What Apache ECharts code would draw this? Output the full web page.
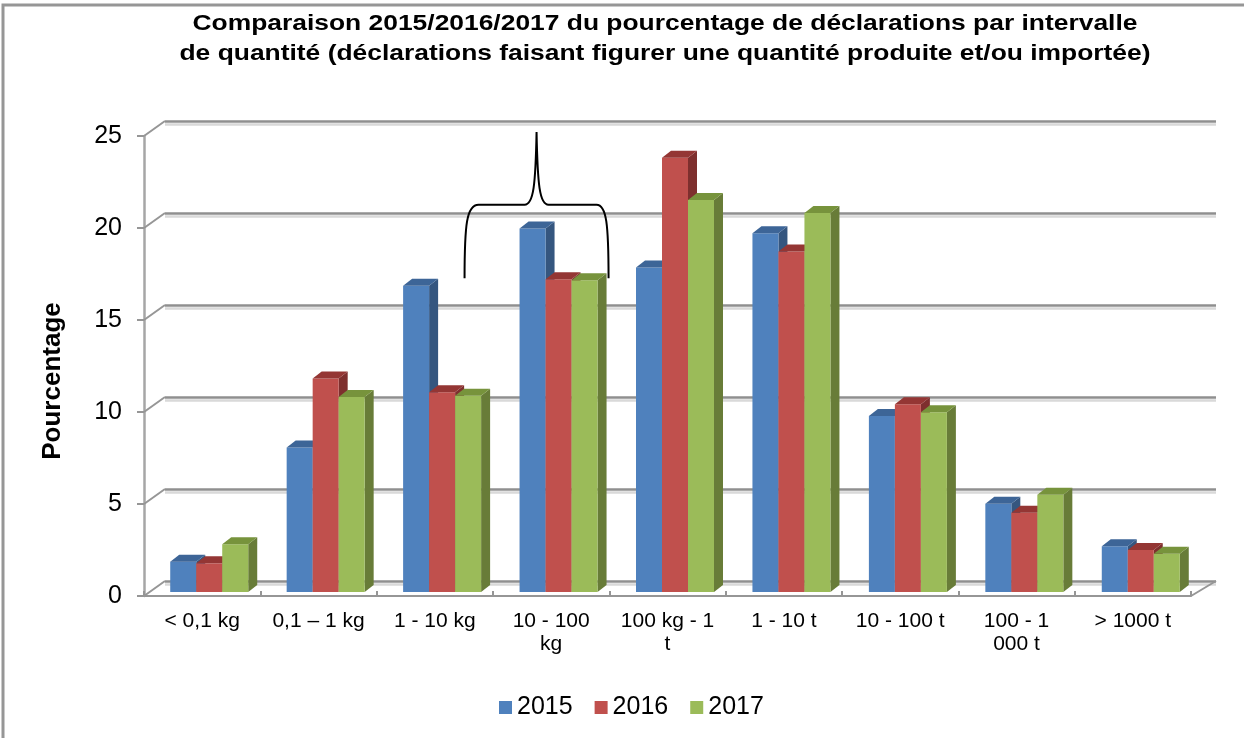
<!DOCTYPE html>
<html>
<head>
<meta charset="utf-8">
<script src="https://cdn.jsdelivr.net/npm/echarts@6/dist/echarts.min.js"></script>
<style>
  html, body { margin: 0; padding: 0; background: #fff; }
  #main { width: 1244px; height: 738px; }
</style>
</head>
<body>
<div id="main"></div>
<script>
var myChart = echarts.init(document.getElementById("main"));

// catégories (libellés tels qu'affichés, avec retour à la ligne)
var categories = ["< 0,1 kg", "0,1 – 1 kg", "1 - 10 kg", "10 - 100\nkg", "100 kg - 1\nt",
  "1 - 10 t", "10 - 100 t", "100 - 1\n000 t", "> 1000 t"];
var years = ["2015", "2016", "2017"];
var v2015 = [1.65, 7.86, 16.65, 19.75, 17.63, 19.5, 9.57, 4.8, 2.48];
var v2016 = [1.56, 11.6, 10.85, 17.0, 23.6, 18.5, 10.2, 4.31, 2.28];
var v2017 = [2.6, 10.6, 10.67, 16.94, 21.3, 20.6, 9.77, 5.29, 2.08];
var yTicks = [0, 5, 10, 15, 20, 25];

var titre = "Comparaison 2015/2016/2017 du pourcentage de déclarations par intervalle\n" +
  "de quantité (déclarations faisant figurer une quantité produite et/ou importée)";

// couleurs face / dessus / côté
var colors = [
  { front: "#4F81BD", top: "#3D6597", side: "#35567F" },
  { front: "#C0504D", top: "#943634", side: "#7E2F2E" },
  { front: "#9BBB59", top: "#77933C", side: "#687C38" }
];

var BW = 26;   // largeur d'une barre
var DX = 9;    // profondeur x
var DY = 7;    // profondeur y
var WX = 21;   // décalage mur arrière
var WY = 15;

function bar3d(idx) {
  return function (params, api) {
    var cat = api.value(0);
    var v = api.value(1);
    var base = api.coord([cat, 0]);
    var top = api.coord([cat, v]);
    var x0 = base[0] - 1.5 * BW + idx * BW;
    var ty = top[1], by = base[1];
    var c = colors[idx];
    return {
      type: "group",
      children: [
        {
          type: "polygon",
          shape: { points: [[x0 + BW, ty], [x0 + BW + DX, ty - DY], [x0 + BW + DX, by - DY], [x0 + BW, by]] },
          style: { fill: c.side }
        },
        {
          type: "rect",
          shape: { x: x0, y: ty, width: BW, height: by - ty },
          style: { fill: c.front }
        },
        {
          type: "polygon",
          shape: { points: [[x0, ty], [x0 + DX, ty - DY], [x0 + BW + DX, ty - DY], [x0 + BW, ty]] },
          style: { fill: c.top }
        }
      ]
    };
  };
}

function toData(arr) {
  return arr.map(function (v, i) { return [i, v]; });
}

var option = {
  animation: false,
  legend: {
    data: years,
    left: 494,
    top: 690,
    itemWidth: 13,
    itemHeight: 13,
    itemGap: 22,
    icon: "rect",
    textStyle: { fontFamily: "Liberation Sans", fontSize: 25, color: "#000" }
  },
  graphic: [
    {
      type: "rect",
      shape: { x: 3, y: 5, width: 1400, height: 900 },
      style: { fill: "none", stroke: "#969696", lineWidth: 3 },
      silent: true
    },
    {
      // titre (police Arial étirée horizontalement comme dans Excel)
      type: "text",
      x: 665,
      y: 9,
      scaleX: 1.2,
      style: {
        text: titre,
        fontFamily: "Liberation Sans",
        fontSize: 22,
        fontWeight: "bold",
        lineHeight: 30,
        fill: "#000",
        align: "center",
        verticalAlign: "top"
      }
    },
    {
      type: "text",
      x: 53,
      y: 381,
      rotation: Math.PI / 2,
      style: {
        text: "Pourcentage",
        fontFamily: "Liberation Sans",
        fontSize: 26,
        fontWeight: "bold",
        fill: "#000",
        align: "center",
        verticalAlign: "middle"
      }
    }
  ],
  grid: [
    // mur arrière
    { left: 165, top: 121, width: 1051, height: 460 },
    // axe avant
    { left: 144, top: 136, width: 1047, height: 460 },
    // barres
    { left: 151, top: 132, width: 1048, height: 460 }
  ],
  xAxis: [
    { gridIndex: 0, type: "category", data: categories, show: false },
    {
      gridIndex: 1,
      type: "category",
      data: categories,
      axisLine: { lineStyle: { color: "#969696", width: 2 } },
      axisTick: { show: true, length: 5, inside: true, lineStyle: { color: "#969696", width: 2 } },
      axisLabel: {
        margin: 14,
        fontFamily: "Liberation Sans",
        fontSize: 21,
        lineHeight: 23,
        color: "#000",
        interval: 0
      }
    },
    { gridIndex: 2, type: "category", data: categories, show: false }
  ],
  yAxis: [
    {
      gridIndex: 0,
      type: "value",
      min: 0,
      max: 25,
      interval: 5,
      axisLine: { show: false },
      axisTick: { show: false },
      axisLabel: { show: false },
      splitLine: {
        lineStyle: { color: "#8f8f8f", width: 2.5, shadowColor: "#d9d9d9", shadowOffsetY: 3, shadowBlur: 0 }
      }
    },
    {
      gridIndex: 1,
      type: "value",
      min: 0,
      max: 25,
      interval: 5,
      axisLine: { show: true, lineStyle: { color: "#a6a6a6", width: 2.5 } },
      axisTick: { show: true, length: 7, lineStyle: { color: "#969696", width: 2 } },
      axisLabel: {
        margin: 22,
        fontFamily: "Liberation Sans",
        fontSize: 25,
        color: "#000"
      },
      splitLine: { show: false }
    },
    { gridIndex: 2, type: "value", min: 0, max: 25, interval: 5, show: false, splitLine: { show: false } }
  ],
  series: [
    {
      // diagonales du mur gauche et du plancher
      name: "mur",
      type: "custom",
      xAxisIndex: 1,
      yAxisIndex: 1,
      silent: true,
      data: yTicks.map(function (t) { return [0, t]; }),
      renderItem: function (params, api) {
        var p = api.coord([0, api.value(1)]);
        var x = params.coordSys.x;
        var lines = [{
          type: "line",
          shape: { x1: x, y1: p[1], x2: x + WX, y2: p[1] - WY },
          style: { stroke: "#969696", lineWidth: 2 }
        }];
        if (api.value(1) === 0) {
          var xr = params.coordSys.x + params.coordSys.width;
          lines.push({
            type: "line",
            shape: { x1: xr, y1: p[1], x2: xr + WX + 4, y2: p[1] - WY },
            style: { stroke: "#969696", lineWidth: 2 }
          });
        }
        return { type: "group", children: lines };
      },
      z: 1
    },
    {
      name: "2015",
      type: "custom",
      xAxisIndex: 2,
      yAxisIndex: 2,
      itemStyle: { color: colors[0].front },
      encode: { x: 0, y: 1 },
      data: toData(v2015),
      renderItem: bar3d(0),
      z: 3
    },
    {
      name: "2016",
      type: "custom",
      xAxisIndex: 2,
      yAxisIndex: 2,
      itemStyle: { color: colors[1].front },
      encode: { x: 0, y: 1 },
      data: toData(v2016),
      renderItem: bar3d(1),
      z: 4
    },
    {
      name: "2017",
      type: "custom",
      xAxisIndex: 2,
      yAxisIndex: 2,
      itemStyle: { color: colors[2].front },
      encode: { x: 0, y: 1 },
      data: toData(v2017),
      renderItem: bar3d(2),
      z: 5
    },
    {
      // accolade au-dessus de la catégorie 10 - 100 kg
      name: "accolade",
      type: "custom",
      xAxisIndex: 2,
      yAxisIndex: 2,
      silent: true,
      data: [[3, 17.05, 21.05, 25]],
      renderItem: function (params, api) {
        var c = api.coord([api.value(0), api.value(1)]);
        var ye = c[1];
        var yb = api.coord([api.value(0), api.value(2)])[1];
        var yp = api.coord([api.value(0), api.value(3)])[1];
        var xc = c[0] - 22;
        var L = xc - 72, R = xc + 72;
        var d = "M" + L + " " + ye +
          " C" + L + " " + (yb + 20) + " " + (L + 2) + " " + yb + " " + (L + 14) + " " + yb +
          " L" + (xc - 12) + " " + yb +
          " C" + (xc - 3) + " " + yb + " " + (xc - 1) + " " + (yb - 20) + " " + xc + " " + yp +
          " C" + (xc + 1) + " " + (yb - 20) + " " + (xc + 3) + " " + yb + " " + (xc + 12) + " " + yb +
          " L" + (R - 12) + " " + yb +
          " C" + (R - 2) + " " + yb + " " + R + " " + (yb + 20) + " " + R + " " + ye;
        return {
          type: "path",
          shape: { pathData: d },
          style: { fill: "none", stroke: "#000", lineWidth: 2 }
        };
      },
      z: 6
    }
  ]
};

myChart.setOption(option);
</script>
</body>
</html>
